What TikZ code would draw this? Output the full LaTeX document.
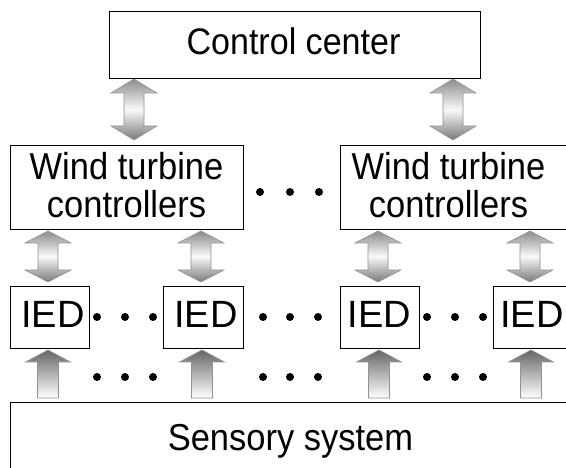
\documentclass[tikz,border=0pt]{standalone}
\usepackage{fontspec}
\newfontfamily\lblfont[FakeStretch=0.92]{Liberation Sans}
\newfontfamily\iedfont{Liberation Sans}
\tikzset{
  box/.style={draw=black, line width=0.8pt, inner sep=0pt, fill=white},
  lbl/.style={font=\lblfont\fontsize{37.5}{38}\selectfont, anchor=base, inner sep=0pt},
  iedlbl/.style={font=\iedfont\fontsize{38}{38}\selectfont, anchor=base, inner sep=0pt},
  dblshade/.style={draw=gray!85, line width=0.6pt, top color=gray!90, bottom color=gray!95!black, middle color=gray!5},
  upshade/.style={draw=gray!85, line width=0.6pt, top color=gray!80!black, bottom color=white},
}
% #1 centre x, #2 top y, #3 bottom y, #4 head length
\newcommand\dblarr[4]{%
  \path[dblshade] (#1,#2) -- ({#1+23},{#2+#4}) -- ({#1+10},{#2+#4}) -- ({#1+10},{#3-#4})
    -- ({#1+23},{#3-#4}) -- (#1,#3) -- ({#1-23},{#3-#4}) -- ({#1-10},{#3-#4})
    -- ({#1-10},{#2+#4}) -- ({#1-23},{#2+#4}) -- cycle;}
\newcommand\uparr[3]{%
  \path[upshade] (#1,#2) -- ({#1+22.5},{#2+12}) -- ({#1+10.5},{#2+12}) -- ({#1+10.5},#3)
    -- ({#1-10.5},#3) -- ({#1-10.5},{#2+12}) -- ({#1-22.5},{#2+12}) -- cycle;}
\begin{document}
\begin{tikzpicture}[x=1pt,y=-1pt]
\useasboundingbox (0,0) rectangle (566,468);
\clip (0,0) rectangle (566,468);
\fill[white] (0,0) rectangle (566,468);

% boxes
\node[box, minimum width=371pt, minimum height=67pt] (cc) at (294.5,44.5) {};
\node[box, minimum width=233pt, minimum height=84pt] (wt1) at (126.5,187) {};
\node[box, minimum width=235pt, minimum height=84pt] (wt2) at (457.5,187) {};
\node[box, minimum width=79pt, minimum height=62pt] (ied1) at (49.5,317) {};
\node[box, minimum width=80pt, minimum height=62pt] (ied2) at (203,317) {};
\node[box, minimum width=79pt, minimum height=62pt] (ied3) at (379.5,317) {};
\node[box, minimum width=80pt, minimum height=62pt] (ied4) at (533,317) {};
\node[box, minimum width=570pt, minimum height=88pt] (sens) at (295,446) {};

% labels
\node[lbl, font=\lblfont\fontsize{37}{38}\selectfont] (cct) at (293.5,55) {Control center};
\node[lbl] (wt1a) at (126.5,180) {Wind turbine};
\node[lbl] (wt1b) at (126.5,218) {controllers};
\node[lbl] (wt2a) at (448.5,180) {Wind turbine};
\node[lbl] (wt2b) at (448.5,218) {controllers};
\node[iedlbl] (ied1t) at (53,327) {IED};
\node[iedlbl] (ied2t) at (206,327) {IED};
\node[iedlbl] (ied3t) at (379.5,327) {IED};
\node[iedlbl] (ied4t) at (532,327) {IED};
\node[lbl] (senst) at (290.5,450) {Sensory system};

% arrows
\dblarr{134}{79}{140}{14}
\dblarr{453}{79}{140}{14}
\dblarr{48}{231}{282}{12}
\dblarr{201}{231}{282}{12}
\dblarr{378}{231}{282}{12}
\dblarr{530}{231}{282}{12}
\uparr{48}{350}{398}
\uparr{202}{350}{398}
\uparr{379}{350}{398}
\uparr{531}{350}{398}

% dots
\foreach \x in {260,290,319} \fill (\x,192) circle (4pt);
\foreach \x in {97,125,153,263,290,318,427,455,483} {
  \fill (\x,317) circle (4pt);
  \fill (\x,377) circle (4pt);
}
\end{tikzpicture}
\end{document}
